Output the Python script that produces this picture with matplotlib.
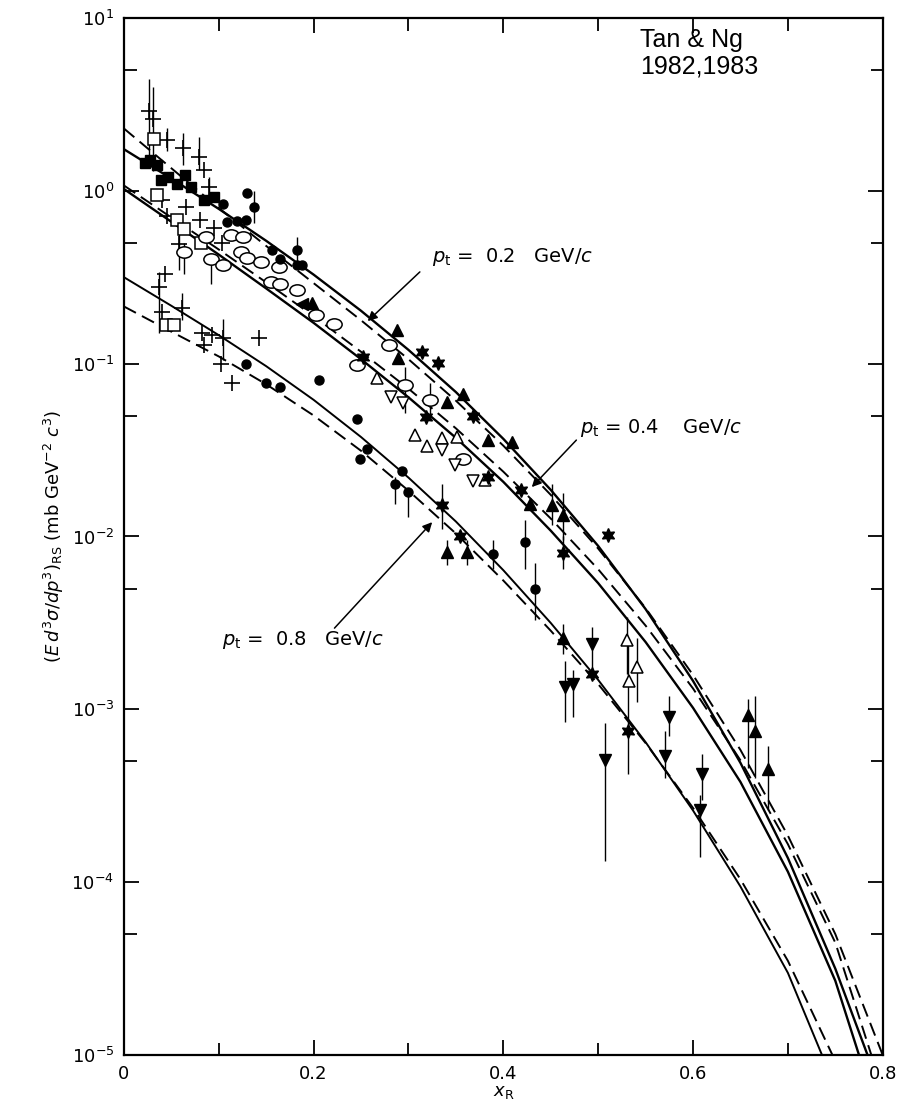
import matplotlib
matplotlib.use("Agg")
import matplotlib.pyplot as plt
import matplotlib.ticker as ticker
from matplotlib.path import Path
from matplotlib.transforms import Affine2D

plt.rcParams['font.family'] = ['DejaVu Sans']
plt.rcParams['mathtext.fontset'] = 'dejavusans'

# fitted invariant cross sections, solid and dashed for each p_t
x_fit = [0.0, 0.05, 0.1, 0.15, 0.2, 0.25, 0.3, 0.35, 0.4, 0.45, 0.5, 0.55, 0.6, 0.65, 0.7, 0.75]
x_fit_short = x_fit[:15]

pt02_solid = [1.738, 1.175, 0.785, 0.513, 0.327, 0.202, 0.120, 0.0684, 0.0367, 0.0186,
              0.00881, 0.00380, 0.00146, 0.000490, 0.000138, 3.16e-5, 1.0e-5]
pt02_dash = [2.29, 1.349, 0.794, 0.479, 0.292, 0.178, 0.106, 0.0610, 0.0335, 0.0174,
             0.00851, 0.00385, 0.00158, 0.000582, 0.000186, 5.01e-5, 1.0e-5]
pt04_solid = [1.023, 0.661, 0.427, 0.272, 0.172, 0.106, 0.0638, 0.0372, 0.0207, 0.0108,
              0.00537, 0.00245, 0.00102, 0.000380, 0.000115, 2.69e-5, 1.0e-5]
pt04_dash = [1.072, 0.700, 0.457, 0.295, 0.188, 0.117, 0.0716, 0.0422, 0.0237, 0.0127,
             0.00646, 0.00305, 0.00132, 0.000507, 0.000166, 4.47e-5, 1.0e-5]
pt08_solid = [0.316, 0.216, 0.146, 0.0966, 0.0617, 0.0376, 0.0219, 0.0122, 0.00638, 0.00316,
              0.00148, 0.000646, 0.000260, 9.44e-5, 2.99e-5, 1.0e-5]
pt08_dash = [0.214, 0.153, 0.110, 0.0759, 0.0501, 0.0313, 0.0184, 0.0104, 0.00556, 0.00285,
             0.00140, 0.000638, 0.000269, 0.000104, 3.51e-5, 1.0e-5]
# x_R where each curve reaches the bottom of the plot
x_end = {"02s": 0.784, "02d": 0.800, "04s": 0.775, "04d": 0.788, "08s": 0.736, "08d": 0.747}

# measurements
cross_x = [0.026, 0.031, 0.045, 0.062, 0.079, 0.084, 0.090, 0.040, 0.065, 0.058, 0.095, 0.103, 0.045, 0.080,
           0.037, 0.040, 0.061, 0.082, 0.093, 0.105, 0.084, 0.142, 0.102, 0.114, 0.043]
cross_y = [2.9, 2.6, 1.97, 1.77, 1.57, 1.32, 1.05, 0.886, 0.80, 0.49, 0.61, 0.50, 0.71, 0.68,
           0.278, 0.20, 0.21, 0.15, 0.147, 0.14, 0.128, 0.14, 0.10, 0.077, 0.33]

fsq_x = [0.022, 0.028, 0.035, 0.039, 0.047, 0.056, 0.064, 0.071, 0.084, 0.095]
fsq_y = [1.45, 1.51, 1.41, 1.155, 1.2, 1.10, 1.23, 1.05, 0.886, 0.92]

osq_x = [0.032, 0.035, 0.056, 0.063, 0.081, 0.044, 0.053]
osq_y = [2.0, 0.95, 0.68, 0.60, 0.50, 0.168, 0.168]

ocirc_x = [0.063, 0.087, 0.092, 0.113, 0.126, 0.123, 0.130, 0.105, 0.145, 0.163, 0.155, 0.165, 0.182,
           0.203, 0.221, 0.246, 0.296, 0.323, 0.357, 0.280]
ocirc_y = [0.44, 0.54, 0.40, 0.556, 0.54, 0.44, 0.41, 0.373, 0.386, 0.36, 0.297, 0.29, 0.268,
           0.191, 0.17, 0.098, 0.075, 0.0615, 0.028, 0.128]

fcirc_x = [0.105, 0.130, 0.137, 0.109, 0.119, 0.129, 0.156, 0.165, 0.182, 0.182, 0.188,
           0.129, 0.150, 0.165, 0.206, 0.256, 0.249, 0.293, 0.286, 0.299, 0.246, 0.389, 0.423, 0.433]
fcirc_y = [0.84, 0.97, 0.80, 0.66, 0.67, 0.68, 0.456, 0.40, 0.456, 0.373, 0.373,
           0.10, 0.077, 0.073, 0.08, 0.032, 0.028, 0.024, 0.020, 0.018, 0.048, 0.0079, 0.0093, 0.005]

ftri_x = [0.198, 0.288, 0.289, 0.357, 0.341, 0.384, 0.409, 0.428, 0.451, 0.463,
          0.463, 0.341, 0.362, 0.658, 0.665, 0.679]
ftri_y = [0.225, 0.157, 0.107, 0.067, 0.060, 0.036, 0.035, 0.0155, 0.0152, 0.0133,
          0.0026, 0.0081, 0.0081, 0.00093, 0.00075, 0.00045]

fdown_x = [0.465, 0.473, 0.494, 0.507, 0.575, 0.570, 0.609, 0.607]
fdown_y = [0.00135, 0.0014, 0.0024, 0.00051, 0.00090, 0.00054, 0.00042, 0.00026]

otri_x = [0.267, 0.307, 0.320, 0.335, 0.351, 0.381, 0.530, 0.541, 0.533]
otri_y = [0.083, 0.0386, 0.0335, 0.037, 0.0375, 0.0212, 0.00251, 0.00175, 0.00145]

odown_x = [0.282, 0.294, 0.335, 0.349, 0.368]
odown_y = [0.064, 0.059, 0.0316, 0.0259, 0.021]

star_x = [0.252, 0.314, 0.331, 0.319, 0.368, 0.384, 0.463, 0.510, 0.335, 0.354, 0.493, 0.531, 0.419]
star_y = [0.109, 0.116, 0.101, 0.049, 0.050, 0.022, 0.0080, 0.0102, 0.0152, 0.010, 0.0016, 0.00075, 0.0185]

left_x = [0.188]
left_y = [0.22]

# vertical error bars
bar_x = [0.026, 0.031, 0.045, 0.062, 0.079, 0.090, 0.058, 0.037, 0.061, 0.105,
         0.063, 0.092, 0.296, 0.323,
         0.137, 0.182, 0.286, 0.299, 0.389, 0.423, 0.433,
         0.451, 0.463, 0.463, 0.341, 0.362, 0.658, 0.665, 0.679,
         0.465, 0.473, 0.494, 0.507, 0.575, 0.570, 0.609, 0.607,
         0.530, 0.541, 0.463, 0.335, 0.531]
bar_lo = [1.6, 1.3, 1.7, 1.41, 1.32, 0.9, 0.35, 0.15, 0.179, 0.105,
          0.33, 0.29, 0.052, 0.049,
          0.65, 0.37, 0.0155, 0.013, 0.0065, 0.0065, 0.0033,
          0.0116, 0.0095, 0.0021, 0.0068, 0.0068, 0.00046, 0.00040, 0.00026,
          0.00084, 0.0009, 0.0017, 0.000133, 0.00070, 0.00040, 0.00030, 0.00014,
          0.0016, 0.0011, 0.0065, 0.011, 0.00042]
bar_hi = [4.4, 4.0, 2.3, 2.16, 2.05, 1.2, 0.62, 0.34, 0.256, 0.18,
          0.50, 0.42, 0.095, 0.077,
          1.0, 0.54, 0.022, 0.019, 0.0095, 0.0124, 0.0070,
          0.020, 0.0178, 0.0031, 0.0095, 0.0095, 0.00115, 0.0012, 0.00061,
          0.0019, 0.0017, 0.0030, 0.00083, 0.0012, 0.00075, 0.00055, 0.00032,
          0.0034, 0.0026, 0.0100, 0.020, 0.0024]

y_decades = [1e-5, 1e-4, 1e-3, 1e-2, 1e-1, 1, 10]
y_halves = [5e-5, 5e-4, 5e-3, 5e-2, 0.5, 5]

fig = plt.figure(figsize=(9.11, 11.13), dpi=100)
ax = fig.add_axes([0.136, 0.052, 0.833, 0.932])
ax.set_yscale('log')

lw = 1.4
dash = (7, 3.5)
ax.plot(x_fit + [x_end["02s"]], pt02_solid, color='k', lw=lw + 0.3)
ax.plot(x_fit + [x_end["02d"]], pt02_dash, color='k', lw=lw, dashes=dash)
ax.plot(x_fit + [x_end["04s"]], pt04_solid, color='k', lw=lw + 0.3)
ax.plot(x_fit + [x_end["04d"]], pt04_dash, color='k', lw=lw, dashes=dash)
ax.plot(x_fit_short + [x_end["08s"]], pt08_solid, color='k', lw=lw)
ax.plot(x_fit_short + [x_end["08d"]], pt08_dash, color='k', lw=lw, dashes=dash)

ax.vlines(bar_x, bar_lo, bar_hi, color='k', lw=1.0)

ellipse = Path.unit_circle().transformed(Affine2D().scale(1.35, 1.0))

ax.plot(cross_x, cross_y, ls='none', marker='+', ms=12, mew=1.2, color='k')
ax.plot(fsq_x, fsq_y, ls='none', marker='s', ms=7, color='k')
ax.plot(osq_x, osq_y, ls='none', marker='s', ms=8, mfc='white', mec='k', mew=1.1)
ax.plot(ocirc_x, ocirc_y, ls='none', marker=ellipse, ms=11, mfc='white', mec='k', mew=1.1)
ax.plot(fcirc_x, fcirc_y, ls='none', marker='o', ms=6.5, color='k')
ax.plot(ftri_x, ftri_y, ls='none', marker='^', ms=9, color='k')
ax.plot(fdown_x, fdown_y, ls='none', marker='v', ms=9, color='k')
ax.plot(otri_x, otri_y, ls='none', marker='^', ms=9, mfc='white', mec='k', mew=1.1)
ax.plot(odown_x, odown_y, ls='none', marker='v', ms=9, mfc='white', mec='k', mew=1.1)
ax.plot(star_x, star_y, ls='none', marker=(6, 1, 0), ms=10, color='k')
ax.plot(left_x, left_y, ls='none', marker='<', ms=9, color='k')

# curve labels
arrow = dict(arrowstyle='-|>', color='k', lw=1.1, mutation_scale=14, shrinkA=0, shrinkB=0)
ax.annotate('', xy=(0.257, 0.176), xytext=(0.312, 0.339), arrowprops=arrow)
ax.text(0.325, 0.414, r'$p_{\rm t}$ =  0.2   GeV/$c$', fontsize=14, va='center', ha='left')
ax.annotate('', xy=(0.430, 0.0193), xytext=(0.477, 0.0361), arrowprops=arrow)
ax.text(0.481, 0.0423, r'$p_{\rm t}$ = 0.4    GeV/$c$', fontsize=14, va='center', ha='left')
ax.annotate('', xy=(0.325, 0.0121), xytext=(0.222, 0.00295), arrowprops=arrow)
ax.text(0.103, 0.00251, r'$p_{\rm t}$ =  0.8   GeV/$c$', fontsize=14, va='center', ha='left')

fig.text(640 / 911, 1 - 28 / 1113, 'Tan & Ng\n1982,1983', family='Liberation Sans',
         fontsize=18, va='top', ha='left', linespacing=1.15)

ax.set_xlim(0, 0.8)
ax.set_ylim(1e-5, 10)
ax.xaxis.set_major_locator(ticker.FixedLocator([0, 0.2, 0.4, 0.6, 0.8]))
ax.xaxis.set_minor_locator(ticker.FixedLocator([0.1, 0.3, 0.5, 0.7]))
ax.xaxis.set_major_formatter(ticker.FuncFormatter(lambda v, pos: '0' if abs(v) < 1e-9 else '%.1f' % v))
ax.yaxis.set_major_locator(ticker.FixedLocator(y_decades))
ax.yaxis.set_major_formatter(ticker.LogFormatterSciNotation())
ax.yaxis.set_minor_locator(ticker.FixedLocator(y_halves))
ax.yaxis.set_minor_formatter(ticker.NullFormatter())
ax.tick_params(which='both', direction='in', top=True, right=True, width=1.3, labelsize=13)
ax.tick_params(which='major', length=11)
ax.tick_params(which='minor', length=9)
ax.tick_params(axis='y', pad=7)
ax.tick_params(axis='x', pad=7)
for sp in ax.spines.values():
    sp.set_linewidth(1.6)

ax.set_xlabel(r'$x_{\rm R}$', fontsize=13, labelpad=0)
ax.set_ylabel(r'$(E\,d^3\sigma/dp^3)_{\rm RS}$ (mb GeV$^{-2}$ $c^3$)', fontsize=13, labelpad=4)

fig.savefig('out.png', dpi=100)
